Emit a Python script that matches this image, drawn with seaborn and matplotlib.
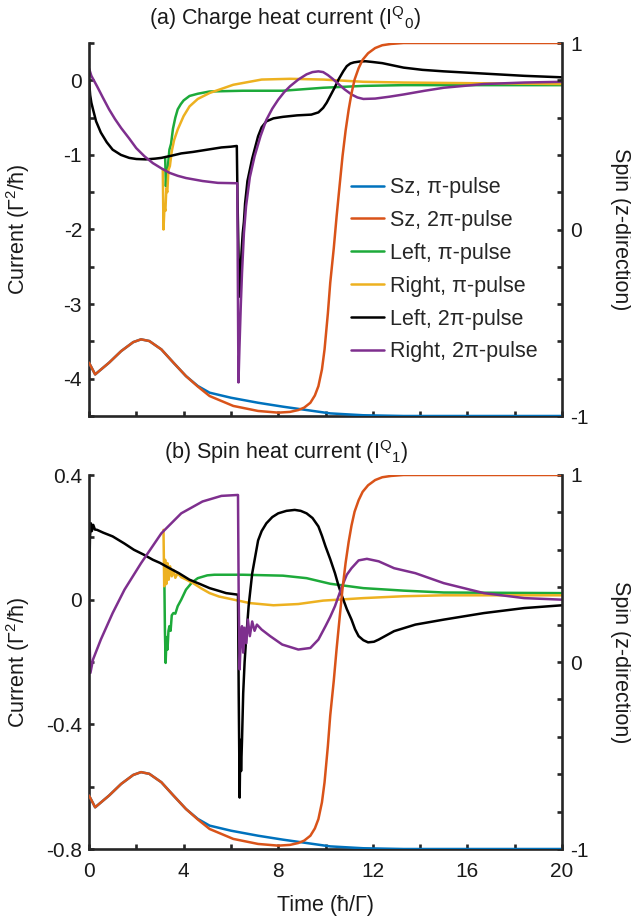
import numpy as np
import matplotlib
matplotlib.use("Agg")
import matplotlib.pyplot as plt
import seaborn as sns
from matplotlib.ticker import MultipleLocator, FuncFormatter

# ---- spin (right axis), same in both panels ----
t_sz_pi = [0, 0.26, 0.85, 1.36, 1.87, 2.2, 2.55, 3.06, 3.57, 4.1, 4.6, 5.1, 6.0, 7.15, 8.2,
           9.2, 10.2, 11.6, 13.3, 20]
sz_pi = [-0.714, -0.777, -0.714, -0.652, -0.604, -0.589, -0.598, -0.643, -0.714, -0.786,
         -0.839, -0.875, -0.902, -0.929, -0.95, -0.968, -0.986, -0.996, -1.0, -1.0]
t_sz_2pi = [0, 0.26, 0.85, 1.36, 1.87, 2.2, 2.55, 3.06, 3.57, 4.1, 4.6, 5.1, 6.1, 7.15, 8.0,
            8.5, 8.85, 9.1, 9.36, 9.55, 9.7, 9.85, 9.96, 10.1, 10.2, 10.35, 10.47, 10.6,
            10.72, 10.85, 10.98, 11.1, 11.23, 11.4, 11.57, 11.8, 12.1, 12.4, 12.77, 13.3, 20]
sz_2pi = [-0.714, -0.777, -0.714, -0.652, -0.604, -0.589, -0.598, -0.643, -0.714, -0.786,
          -0.842, -0.893, -0.946, -0.973, -0.982, -0.978, -0.968, -0.955, -0.929, -0.89,
          -0.84, -0.75, -0.643, -0.45, -0.286, -0.1, 0.071, 0.24, 0.393, 0.53, 0.643, 0.73,
          0.804, 0.865, 0.91, 0.945, 0.973, 0.988, 0.995, 1.0, 1.0]

# ---- (a) charge heat current ----
t_a_left_pi = [3.22, 3.25, 3.28, 3.31, 3.35, 3.4, 3.47, 3.55, 3.65, 3.75, 3.88, 4.0, 4.25,
               4.6, 5.1, 6.5, 8.2, 9.9, 11.6, 13.3, 15, 20]
a_left_pi = [-1.03, -1.42, -1.25, -1.3, -1.1, -0.93, -0.85, -0.65, -0.5, -0.39, -0.32, -0.27,
             -0.21, -0.18, -0.15, -0.14, -0.14, -0.10, -0.075, -0.065, -0.065, -0.065]
t_a_right_pi = [3.12, 3.15, 3.19, 3.23, 3.27, 3.31, 3.36, 3.42, 3.5, 3.6, 3.75, 4.0, 4.25,
                4.6, 5.1, 6.1, 7.3, 8.5, 9.9, 11.6, 13.3, 20]
a_right_pi = [-1.2, -2.0, -1.7, -1.75, -1.45, -1.5, -1.2, -1.15, -0.95, -0.8, -0.66, -0.48,
              -0.35, -0.25, -0.17, -0.06, 0.01, 0.02, 0.01, -0.02, -0.03, -0.05]
t_a_left_2pi = [0, 0.05, 0.1, 0.17, 0.3, 0.5, 0.75, 1.0, 1.35, 1.7, 2.0, 2.4, 2.8, 3.06, 3.5,
                3.9, 4.4, 4.8, 5.2, 5.6, 6.0, 6.25, 6.28, 6.32, 6.36, 6.4, 6.45, 6.5, 6.55,
                6.6, 6.7, 6.8, 6.9, 7.0, 7.15, 7.3, 7.5, 7.8, 8.2, 8.8, 9.4, 9.7, 9.9, 10.05,
                10.2, 10.4, 10.55, 10.75, 10.9, 11.05, 11.2, 11.45, 11.7, 12.0, 12.4, 12.85,
                13.3, 14.1, 15, 16.7, 18.4, 20]
a_left_2pi = [0.0, -0.2, -0.3, -0.39, -0.55, -0.7, -0.83, -0.93, -1.0, -1.04, -1.055, -1.06,
              -1.05, -1.04, -1.01, -0.98, -0.96, -0.94, -0.92, -0.90, -0.89, -0.88, -1.6,
              -2.3, -2.9, -2.6, -2.3, -2.05, -1.9, -1.65, -1.35, -1.2, -1.05, -0.93, -0.75,
              -0.63, -0.55, -0.51, -0.49, -0.47, -0.46, -0.43, -0.37, -0.3, -0.21, -0.09,
              0.01, 0.12, 0.19, 0.225, 0.24, 0.252, 0.255, 0.245, 0.23, 0.2, 0.17, 0.14,
              0.12, 0.09, 0.06, 0.04]
t_a_right_2pi = [0, 0.1, 0.34, 0.6, 0.85, 1.1, 1.36, 1.7, 2.0, 2.35, 2.7, 3.06, 3.4, 3.75, 4.1,
                 4.8, 5.45, 6.27, 6.29, 6.32, 6.36, 6.42, 6.47, 6.55, 6.64, 6.8, 7.0, 7.25,
                 7.5, 7.75, 8.0, 8.25, 8.5, 8.85, 9.2, 9.45, 9.7, 9.9, 10.1, 10.3, 10.55, 10.8,
                 11.1, 11.35, 11.6, 12.1, 12.7, 13.3, 14.2, 15, 16.7, 18.4, 20]
a_right_2pi = [0.16, 0.06, -0.08, -0.24, -0.39, -0.52, -0.64, -0.78, -0.91, -1.02, -1.11,
               -1.18, -1.24, -1.28, -1.31, -1.35, -1.375, -1.38, -2.5, -4.05, -3.6, -3.0,
               -2.58, -2.05, -1.69, -1.3, -1.02, -0.75, -0.53, -0.38, -0.26, -0.16, -0.08,
               0.01, 0.08, 0.11, 0.12, 0.11, 0.07, 0.02, -0.05, -0.12, -0.19, -0.23, -0.25,
               -0.245, -0.22, -0.19, -0.14, -0.10, -0.05, -0.03, -0.02]

# ---- (b) spin heat current ----
t_b_left_pi = [3.18, 3.21, 3.24, 3.28, 3.32, 3.36, 3.4, 3.45, 3.5, 3.57, 3.65, 3.75, 3.9, 4.1,
               4.35, 4.6, 5.0, 5.3, 6.5, 8.2, 9.2, 10.2, 11.6, 13.3, 15, 20]
b_left_pi = [0.11, -0.1, -0.203, -0.12, -0.16, -0.1, -0.085, -0.1, -0.05, -0.043, -0.045,
             -0.021, 0.0, 0.032, 0.055, 0.069, 0.078, 0.08, 0.08, 0.077, 0.069, 0.051, 0.037,
             0.029, 0.023, 0.021]
t_b_right_pi = [3.15, 3.18, 3.22, 3.27, 3.32, 3.37, 3.43, 3.5, 3.57, 3.65, 3.75, 3.9, 4.1, 4.4,
                4.75, 5.1, 5.5, 6.0, 6.8, 7.8, 8.85, 9.9, 11.6, 13.3, 15, 20]
b_right_pi = [0.224, 0.043, 0.128, 0.05, 0.117, 0.064, 0.107, 0.075, 0.095, 0.07, 0.085,
              0.072, 0.065, 0.053, 0.036, 0.021, 0.01, 0.002, -0.011, -0.018, -0.014, -0.003,
              0.005, 0.011, 0.014, 0.014]
t_b_left_2pi = [0, 0.04, 0.08, 0.12, 0.18, 0.25, 0.34, 0.6, 1.0, 1.5, 1.9, 2.3, 2.7, 3.0, 3.4,
                3.8, 4.25, 4.7, 5.1, 5.5, 5.8, 6.1, 6.3, 6.33, 6.37, 6.4, 6.43, 6.47, 6.52,
                6.58, 6.64, 6.75, 6.9, 7.15, 7.3, 7.5, 7.75, 8.0, 8.35, 8.7, 8.95, 9.2, 9.45,
                9.7, 9.85, 10.0, 10.2, 10.4, 10.55, 10.7, 10.9, 11.1, 11.25, 11.4, 11.6, 11.8,
                12.05, 12.25, 12.9, 13.8, 15, 16.7, 18.4, 20]
b_left_2pi = [0.01, 0.2, 0.245, 0.22, 0.24, 0.225, 0.224, 0.215, 0.203, 0.18, 0.16, 0.145,
              0.128, 0.118, 0.101, 0.085, 0.064, 0.05, 0.037, 0.028, 0.021, 0.018, 0.016,
              -0.3, -0.635, -0.45, -0.55, -0.45, -0.3, -0.2, -0.13, -0.02, 0.084, 0.19,
              0.22, 0.245, 0.265, 0.277, 0.285, 0.288, 0.285, 0.277, 0.262, 0.235, 0.205,
              0.171, 0.13, 0.085, 0.045, 0.011, -0.03, -0.064, -0.095, -0.117, -0.13,
              -0.137, -0.135, -0.128, -0.101, -0.08, -0.064, -0.043, -0.027, -0.018]
t_b_right_2pi = [0, 0.03, 0.06, 0.17, 0.5, 1.0, 1.5, 2.2, 3.06, 3.9, 4.8, 5.6, 6.3, 6.33, 6.37,
                 6.42, 6.47, 6.52, 6.58, 6.65, 6.72, 6.8, 6.9, 7.0, 7.1, 7.3, 7.66, 8.17, 8.85,
                 9.36, 9.7, 10.0, 10.2, 10.4, 10.7, 10.9, 11.1, 11.4, 11.75, 12.25, 12.9, 13.8,
                 15, 16.7, 18.4, 20]
b_right_2pi = [0.0, -0.15, -0.235, -0.192, -0.128, -0.043, 0.032, 0.117, 0.213, 0.277, 0.315,
               0.333, 0.336, 0.0, -0.224, -0.12, -0.085, -0.17, -0.09, -0.14, -0.064, -0.117,
               -0.07, -0.1, -0.08, -0.096, -0.117, -0.144, -0.16, -0.155, -0.128, -0.085,
               -0.055, -0.021, 0.043, 0.08, 0.101, 0.126, 0.131, 0.123, 0.101, 0.085, 0.053,
               0.021, 0.005, 0.0]

labels = ["Sz, π-pulse", "Sz, 2π-pulse", "Left, π-pulse", "Right, π-pulse",
          "Left, 2π-pulse", "Right, 2π-pulse"]
colors = ["#0072BD", "#D95319", "#1DAA3A", "#EDB120", "#000000", "#7E2F8E"]

sns.set_style("ticks")
plt.rcParams["font.family"] = ["Liberation Sans", "DejaVu Sans"]
plt.rcParams["mathtext.fontset"] = "custom"
plt.rcParams["mathtext.rm"] = "Liberation Sans"
plt.rcParams["mathtext.it"] = "Liberation Sans:italic"
plt.rcParams["axes.unicode_minus"] = False

EDGE = "#262626"
TXT = "#1a1a1a"
FS = 15.5
LW = 1.8

fig = plt.figure(figsize=(6.31, 9.22), dpi=100)
ax_a = fig.add_axes([89 / 631, 1 - 416 / 922, 473 / 631, 373 / 922])
ax_b = fig.add_axes([89 / 631, 1 - 849 / 922, 473 / 631, 374 / 922])

fmt = FuncFormatter(lambda v, p: f"{v:g}")


def panel(ax, curves, ylim, major, minor, show_x):
    ax2 = ax.twinx()
    for (t, v), c in zip(curves, colors[2:]):
        sns.lineplot(x=t, y=v, ax=ax, color=c, linewidth=LW, estimator=None, sort=False)
    sns.lineplot(x=t_sz_pi, y=sz_pi, ax=ax2, color=colors[0], linewidth=LW,
                 estimator=None, sort=False)
    sns.lineplot(x=t_sz_2pi, y=sz_2pi, ax=ax2, color=colors[1], linewidth=LW,
                 estimator=None, sort=False)

    ax.set_xlim(0, 20)
    ax.set_ylim(*ylim)
    ax2.set_ylim(-1, 1)
    ax.xaxis.set_major_locator(MultipleLocator(4))
    ax.xaxis.set_minor_locator(MultipleLocator(2))
    ax.yaxis.set_major_locator(MultipleLocator(major))
    ax.yaxis.set_minor_locator(MultipleLocator(minor))
    ax.yaxis.set_major_formatter(fmt)
    ax2.yaxis.set_major_locator(MultipleLocator(1))
    ax2.yaxis.set_minor_locator(MultipleLocator(0.2))
    ax2.yaxis.set_major_formatter(fmt)

    for a in (ax, ax2):
        for s in a.spines.values():
            s.set_linewidth(1.9)
            s.set_color(EDGE)
        a.spines["top"].set_visible(False)
    ax.spines["right"].set_visible(False)
    ax2.spines["left"].set_visible(False)
    ax2.spines["bottom"].set_visible(False)

    ax.tick_params(axis="both", which="both", direction="in", length=3.4, width=1.9,
                   color=EDGE, labelcolor=TXT, labelsize=FS - 0.5, top=False, right=False)
    ax.tick_params(axis="y", pad=5)
    ax.tick_params(axis="x", pad=9, labelbottom=show_x)
    ax2.tick_params(axis="y", which="both", direction="in", length=3.4, width=1.9,
                    color=EDGE, labelcolor=TXT, labelsize=FS - 0.5, pad=6)

    ax.set_ylabel("Current (Γ$^2$/ħ)", fontsize=FS, color=TXT)
    ax.yaxis.set_label_coords(-0.12, 0.5)
    ax2.set_ylabel("Spin (z-direction)", fontsize=FS, color=TXT, rotation=270,
                   va="center")
    ax2.yaxis.set_label_coords(1.123, 0.5)
    ax.set_xlabel("")
    if show_x:
        ax.set_xlabel("Time (ħ/Γ)", fontsize=FS, color=TXT)
        ax.xaxis.set_label_coords(0.5, -0.123)
    return ax2


ax2_a = panel(ax_a, [(t_a_left_pi, a_left_pi), (t_a_right_pi, a_right_pi),
                     (t_a_left_2pi, a_left_2pi), (t_a_right_2pi, a_right_2pi)],
              (-4.5, 0.5), 1, 0.5, False)
ax2_b = panel(ax_b, [(t_b_left_pi, b_left_pi), (t_b_right_pi, b_right_pi),
                     (t_b_left_2pi, b_left_2pi), (t_b_right_2pi, b_right_2pi)],
              (-0.8, 0.4), 0.4, 0.2, True)

handles = list(ax2_a.get_lines()) + list(ax_a.get_lines())
ax2_a.legend(handles, labels, loc="center left", bbox_to_anchor=(0.553, 0.392),
             frameon=False, fontsize=FS, borderpad=0, borderaxespad=0,
             handlelength=1.55, handletextpad=0.3, labelspacing=0.55)

fig.text(285 / 631, 1 - 18 / 922, "(a) Charge heat current (I$^{\\rm Q}$$_{\\rm 0}$)",
         ha="center", va="center", fontsize=FS, color=TXT)
fig.text(286 / 631, 1 - 452 / 922, "(b) Spin heat current (I$^{\\rm Q}$$_{\\rm 1}$)",
         ha="center", va="center", fontsize=FS, color=TXT)

fig.savefig("out.png", dpi=100)
